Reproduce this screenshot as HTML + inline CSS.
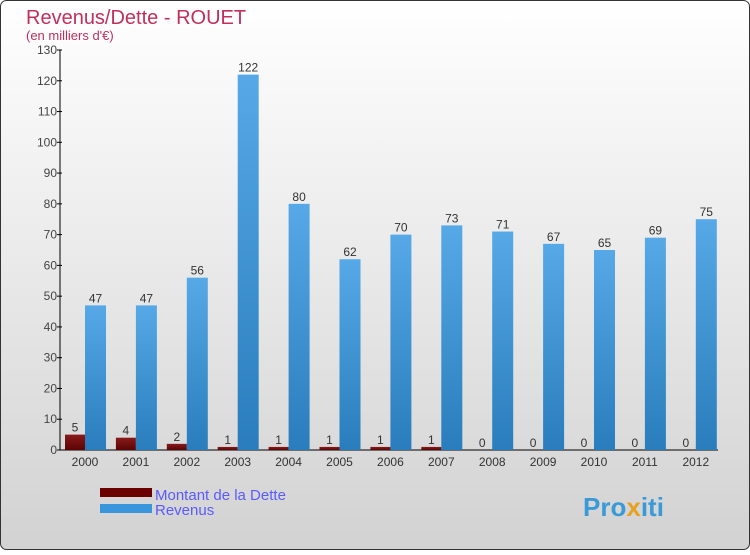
<!DOCTYPE html>
<html><head><meta charset="utf-8"><style>
body{margin:0;width:750px;height:550px;overflow:hidden;font-family:"Liberation Sans",sans-serif}
</style></head><body>
<svg width="750" height="550" xmlns="http://www.w3.org/2000/svg">
<defs>
<linearGradient id="bg" x1="0" y1="0" x2="0" y2="1"><stop offset="0" stop-color="#ffffff"/><stop offset="1" stop-color="#d2d2d2"/></linearGradient>
<linearGradient id="gb" x1="0" y1="0" x2="0" y2="1"><stop offset="0" stop-color="#56a9e6"/><stop offset="1" stop-color="#2a7dbc"/></linearGradient>
<linearGradient id="gr" x1="0" y1="0" x2="0" y2="1"><stop offset="0" stop-color="#8a1a1a"/><stop offset="1" stop-color="#5a0505"/></linearGradient>
</defs>
<rect x="0.5" y="0.5" width="749" height="549" rx="6" fill="url(#bg)" stroke="#333"/>
<text x="26" y="24" font-size="20" fill="#c0305a">Revenus/Dette - ROUET</text>
<text x="26" y="40" font-size="13" fill="#c0305a">(en milliers d'€)</text>
<g id="axes"></g>
<g id="bars"></g>
<rect x="100" y="488" width="52" height="9" fill="#6a0000"/>
<text x="155" y="500" font-size="15" fill="#5a5aff">Montant de la Dette</text>
<rect x="100" y="504" width="52" height="9" fill="#3a96dc"/>
<text x="155" y="515" font-size="15" fill="#5a5aff">Revenus</text>
<text x="583" y="516" font-size="26" font-weight="bold" fill="#3a9ad8">Pro<tspan fill="#e8a020">x</tspan>iti</text>
</svg>
<script>
const years=["2000","2001","2002","2003","2004","2005","2006","2007","2008","2009","2010","2011","2012"];
const dette=[5,4,2,1,1,1,1,1,0,0,0,0,0];
const revenus=[47,47,56,122,80,62,70,73,71,67,65,69,75];
const ticks=[0,10,20,30,40,50,60,70,80,90,100,110,120,130];
const NS="http://www.w3.org/2000/svg";
const y0=450,yTop=50,maxV=130;
const y=v=>y0-(v/maxV)*(y0-yTop);
const xc=i=>85+i*50.9;
function mk(t,a,p){const e=document.createElementNS(NS,t);for(const k in a)e.setAttribute(k,a[k]);p.appendChild(e);return e;}
const ax=document.getElementById('axes'),bs=document.getElementById('bars');
let l=mk('line',{x1:60,y1:y0,x2:60,y2:yTop,stroke:'#000'},ax);


l=mk('line',{x1:60,y1:y0,x2:718,y2:y0,stroke:'#000'},ax);


ticks.forEach(t=>{
 const tk=mk('line',{x1:57,x2:62,y1:y(t),y2:y(t),stroke:'#000'},ax);
 
 
 const tx=mk('text',{x:57,y:y(t)+4,'font-size':12,'text-anchor':'end',fill:'#444'},ax);
 tx.textContent=t;
 
 
});
years.forEach((yr,i)=>{
 const c=xc(i);
 const tx=mk('text',{x:c,y:466,'font-size':12,'text-anchor':'middle',fill:'#333'},ax);
 tx.textContent=yr;
 
 
 const d=dette[i];
 const rd=mk('rect',{x:c-20,y:y(d),width:20,height:y0-y(d),fill:'url(#gr)'},bs);
 
 
 const ld=mk('text',{x:c-10,y:y(d)-3,'font-size':12,'text-anchor':'middle',fill:'#333'},bs);
 ld.textContent=d;
 
 
 const r=revenus[i];
 const rr=mk('rect',{x:c,y:y(r),width:21,height:y0-y(r),fill:'url(#gb)'},bs);
 
 
 const lr=mk('text',{x:c+10.5,y:y(r)-3,'font-size':12,'text-anchor':'middle',fill:'#333'},bs);
 lr.textContent=r;
 
 
});
</script>
</body></html>
